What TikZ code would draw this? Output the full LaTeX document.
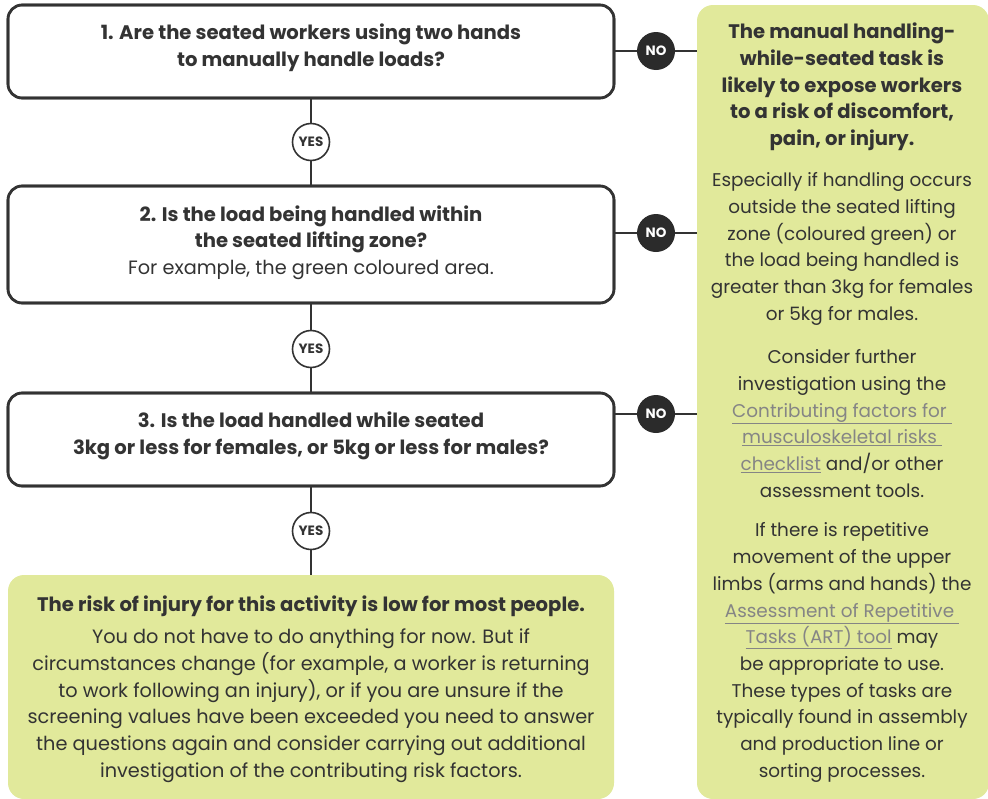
\documentclass[tikz,border=0pt]{standalone}
\usepackage{fontspec}
\setmainfont{Poppins}
\usetikzlibrary{positioning}
\definecolor{ink}{HTML}{333333}
\definecolor{greenbox}{HTML}{E1E99B}
\definecolor{linkc}{HTML}{858585}
\definecolor{dot}{HTML}{2B2B2B}
\newcommand{\lnk}[1]{\textcolor{linkc}{\underline{#1}}}
\tikzset{
  qbox/.style={draw=ink, line width=2.6pt, rounded corners=14pt, minimum width=606pt, inner sep=0pt, fill=white},
  gbox/.style={fill=greenbox, rounded corners=16pt, inner sep=0pt},
  txt/.style={text=ink, align=center, inner sep=0pt, font=\fontsize{19.3}{26.7}\selectfont},
  btxt/.style={txt, font=\fontsize{19.6}{26.7}\selectfont\bfseries},
  rtxt/.style={txt, font=\fontsize{18.4}{26.7}\selectfont},
  yesc/.style={circle, draw=ink, line width=1.6pt, fill=white, minimum size=37pt, inner sep=0pt, font=\fontsize{13.5}{14}\selectfont\bfseries, text=ink},
  noc/.style={circle, fill=dot, minimum size=38pt, inner sep=0pt, font=\fontsize{13.5}{14}\selectfont\bfseries, text=white},
  conn/.style={draw=ink, line width=1.2pt},
}
\begin{document}
\begin{tikzpicture}[x=1pt,y=-1pt]
\useasboundingbox (0,0) rectangle (988,798);
% green boxes
\node[gbox, minimum width=606pt, minimum height=224pt] (low) at (311,687) {};
\node[gbox, minimum width=292pt, minimum height=794pt] (risk) at (843,402) {};
% question boxes
\node[qbox, minimum height=93pt] (q1) at (311,51.5) {};
\node[qbox, minimum height=117pt] (q2) at (311,244.5) {};
\node[qbox, minimum height=93pt] (q3) at (311,439.5) {};
% texts
\node[btxt] (t1) at (311,48) {1. Are the seated workers using two hands\\to manually handle loads?};
\node[txt] (t2) at (311,242.5) {\textbf{\fontsize{19.6}{26.7}\selectfont 2. Is the load being handled within}\\\textbf{\fontsize{19.6}{26.7}\selectfont the seated lifting zone?}\\For example, the green coloured area.};
\node[btxt] (t3) at (311,435.5) {3. Is the load handled while seated\\3kg or less for females, or 5kg or less for males?};
\node[txt] (tl) at (311,689) {\textbf{\fontsize{19.6}{26.7}\selectfont The risk of injury for this activity is low for most people.}\\[6pt]You do not have to do anything for now. But if\\circumstances change (for example, a worker is returning\\to work following an injury), or if you are unsure if the\\screening values have been exceeded you need to answer\\the questions again and consider carrying out additional\\investigation of the contributing risk factors.};
\node[btxt] (tr1) at (842,87) {The manual handling-\\while-seated task is\\likely to expose workers\\to a risk of discomfort,\\pain, or injury.};
\node[rtxt] (tr2) at (842,249) {Especially if handling occurs\\outside the seated lifting\\zone (coloured green) or\\the load being handled is\\greater than 3kg for females\\or 5kg for males.};
\node[rtxt] (tr3) at (842,423.5) {Consider further\\investigation using the\\\lnk{Contributing factors for }\\\lnk{musculoskeletal risks }\\\lnk{checklist} and/or other\\assessment tools.};
\node[rtxt] (tr4) at (842,652.5) {If there is repetitive\\movement of the upper\\limbs (arms and hands) the\\\lnk{Assessment of Repetitive }\\\lnk{Tasks (ART) tool} may\\be appropriate to use.\\These types of tasks are\\typically found in assembly\\and production line or\\sorting processes.};
% yes circles
\node[yesc] (y1) at (311,142) {YES};
\node[yesc] (y2) at (311,349) {YES};
\node[yesc] (y3) at (311,531) {YES};
\draw[conn] (q1) -- (y1) -- (q2);
\draw[conn] (q2) -- (y2) -- (q3);
\draw[conn] (q3) -- (y3) -- (low);
% no circles
\node[noc] (n1) at (656,51) {NO};
\node[noc] (n2) at (656,233) {NO};
\node[noc] (n3) at (656,414) {NO};
\foreach \n in {1,2,3}{
  \draw[conn] (n\n -| q\n.east) -- (n\n) -- (n\n -| risk.west);
}
\node[qbox, minimum height=93pt, fill=none] at (311,51.5) {};
\node[qbox, minimum height=117pt, fill=none] at (311,244.5) {};
\node[qbox, minimum height=93pt, fill=none] at (311,439.5) {};
\end{tikzpicture}
\end{document}
